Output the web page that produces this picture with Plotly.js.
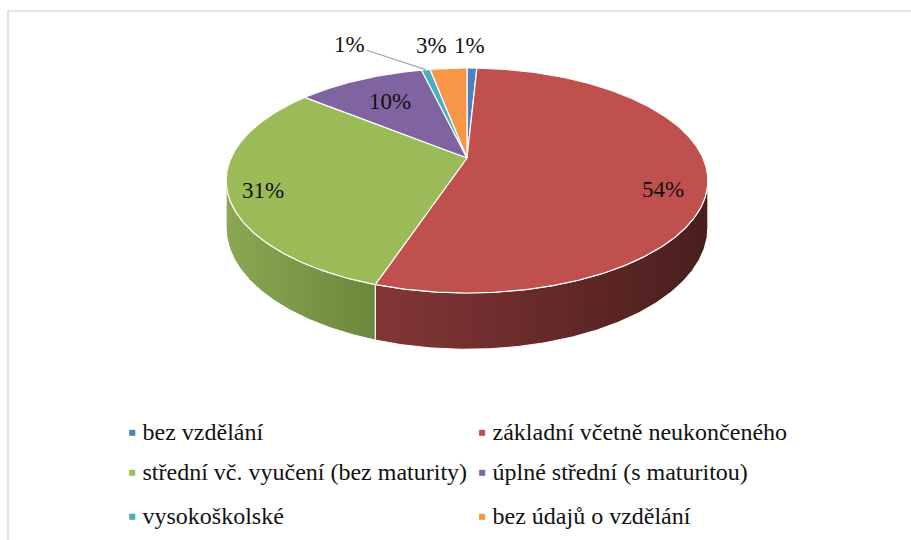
<!DOCTYPE html>
<html>
<head>
<meta charset="utf-8">
<script src="https://cdn.plot.ly/plotly-3.0.1.min.js"></script>
<style>
html,body{margin:0;padding:0;background:#fff;}
#chart{width:911px;height:540px;}
#chart text, #chart tspan { font-family: 'Liberation Serif', 'Times New Roman', serif !important; }
</style>
</head>
<body>
<div id="chart"></div>
<script>
// ---- data ----
const categories = ["bez vzdělání", "základní včetně neukončeného", "střední vč. vyučení (bez maturity)", "úplné střední (s maturitou)", "vysokoškolské", "bez údajů o vzdělání"];
const values = [0.8, 54.3, 30.8, 10.4, 0.7, 3.0];
const labels = ["1%", "54%", "31%", "10%", "1%", "3%"];

// ---- style ----
const colors = ["#4F81BD", "#C0504D", "#9BBB59", "#8064A2", "#4BACC6", "#F79646"];
const sideGrad = [["#3b608c","#2a4566"],["#843636","#4a1e1e"],["#8aa852","#6b883c"],["#5f4a79","#45365a"],["#388196","#285e6d"],["#b86f33","#874f22"]];
const geo = {cx:467, cy:158, A:108, B:236, s:0.2, D0:45};
const labelPlace = [
  {r:1.0, dx:-2, dy:-23},
  {r:0.82, dx:0, dy:15},
  {r:0.857, dx:0, dy:5},
  {r:0.687, dx:0, dy:0},
  {r:1.0, ax:-76, ay:-25, arrow:true},
  {r:1.0, dx:-17, dy:-23}
];

function P(r, deg, withDepth){
  const t = deg*Math.PI/180;
  const den = 1 + geo.s*r*Math.cos(t);
  let x = geo.cx + geo.B*r*Math.sin(t)/den;
  let y = geo.cy - geo.A*r*Math.cos(t)/den;
  if(withDepth) y += geo.D0/den;
  return [x,y];
}

const total = values.reduce((a,b)=>a+b,0);
const bounds = [];
let acc = 0;
values.forEach(v=>{ const a0 = acc/total*360; acc += v; bounds.push([a0, acc/total*360]); });

const traces = [];
const tv = Math.acos(-geo.s)*180/Math.PI;
const visLo = tv, visHi = 360 - tv;
bounds.forEach((b,i)=>{
  const a0 = Math.max(b[0], visLo), a1 = Math.min(b[1], visHi);
  if(a1 <= a0) return;
  const xs=[], ys=[];
  const n = Math.max(2, Math.ceil((a1-a0)/0.5));
  for(let k=0;k<=n;k++){ const a=a0+(a1-a0)*k/n; const p=P(1,a,false); xs.push(p[0]); ys.push(p[1]); }
  for(let k=n;k>=0;k--){ const a=a0+(a1-a0)*k/n; const p=P(1,a,true); xs.push(p[0]); ys.push(p[1]); }
  xs.push(xs[0]); ys.push(ys[0]);
  traces.push({type:'scatter', mode:'lines', x:xs, y:ys, fill:'toself',
    fillgradient:{type:'horizontal', colorscale:[[0,sideGrad[i][0]],[1,sideGrad[i][1]]]},
    fillcolor: sideGrad[i][0],
    line:{color:'#ffffff', width:1}, hoverinfo:'skip', showlegend:false});
});
bounds.forEach((b,i)=>{
  const xs=[geo.cx], ys=[geo.cy];
  const n = Math.max(2, Math.ceil((b[1]-b[0])/0.5));
  for(let k=0;k<=n;k++){ const a=b[0]+(b[1]-b[0])*k/n; const p=P(1,a,false); xs.push(p[0]); ys.push(p[1]); }
  xs.push(geo.cx); ys.push(geo.cy);
  traces.push({type:'scatter', mode:'lines', x:xs, y:ys, fill:'toself', fillcolor:colors[i],
    line:{color:'#ffffff', width:1.2}, name:categories[i], hoverinfo:'name', showlegend:false});
});

const fam = "Liberation Serif";
const labelFont = {family:fam, size:23, color:'#111111'};
const annotations = [];
bounds.forEach((b,i)=>{
  const mid = (b[0]+b[1])/2;
  const lp = labelPlace[i];
  const p = P(lp.r, mid, false);
  if(lp.arrow){
    annotations.push({x:p[0], y:p[1], xref:'x', yref:'y', text:labels[i], showarrow:true,
      ax:lp.ax, ay:lp.ay, arrowhead:0, arrowwidth:1.3, arrowcolor:'#a6a6a6', standoff:0, font:labelFont});
  } else {
    annotations.push({x:p[0], y:p[1], xref:'x', yref:'y', text:labels[i], showarrow:false,
      xshift:lp.dx, yshift:-lp.dy, font:labelFont});
  }
});
const legCols = [126, 476], legRows = [432, 472, 516];
categories.forEach((c,i)=>{
  const col = i%2, row = Math.floor(i/2);
  annotations.push({x:legCols[col], y:legRows[row], xref:'x', yref:'y', xanchor:'left', yanchor:'middle',
    showarrow:false, align:'left',
    text:'<span style="color:'+colors[i]+'">▪</span> '+c,
    font:{family:fam, size:24, color:'#111111'}});
});

const layout = {
  width:911, height:540,
  margin:{l:0,r:0,t:0,b:0},
  paper_bgcolor:'#ffffff', plot_bgcolor:'#ffffff',
  xaxis:{range:[0,911], visible:false, fixedrange:true},
  yaxis:{range:[540,0], visible:false, fixedrange:true},
  showlegend:false,
  shapes:[{type:'rect', xref:'x', yref:'y', x0:8, y0:11, x1:930, y1:560, line:{color:'#d9d9d9', width:1.5}}],
  annotations:annotations
};
Plotly.newPlot('chart', traces, layout, {displayModeBar:false});
</script>
</body>
</html>
